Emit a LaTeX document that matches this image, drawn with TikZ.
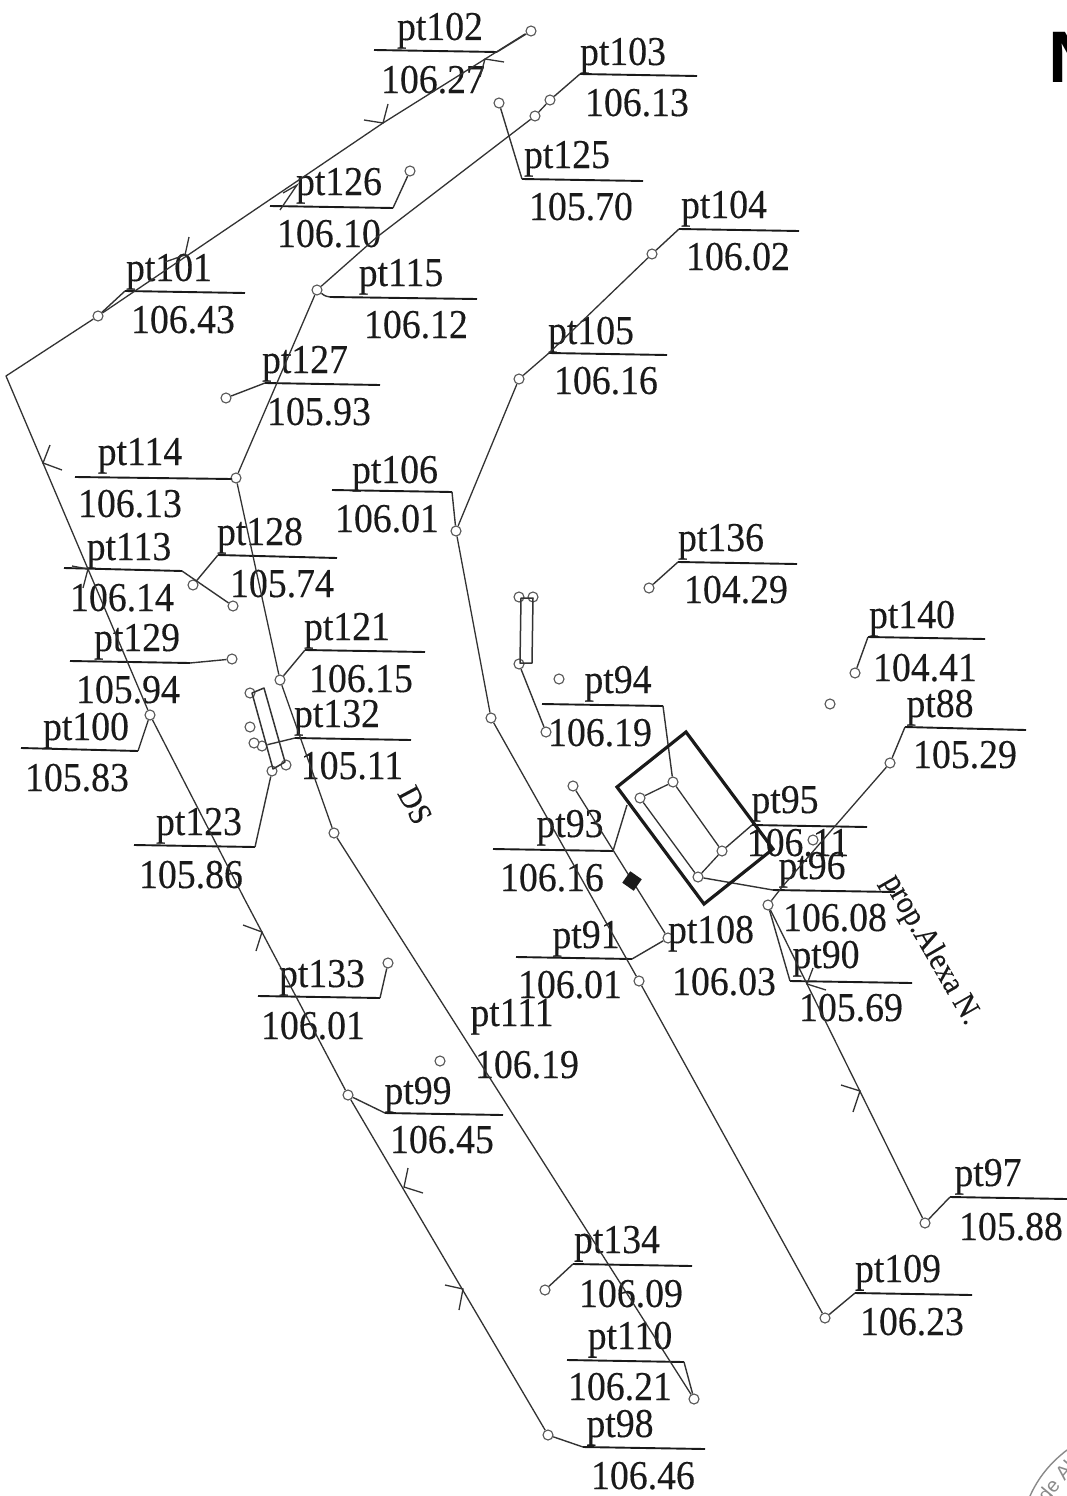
\documentclass[tikz,border=0pt]{standalone}
\usepackage{fontspec}
\setmainfont[FakeStretch=0.92,FakeBold=0.25]{Liberation Serif}
\newfontfamily\nsans{Liberation Sans}
\definecolor{ink}{HTML}{1A1A1A}
\definecolor{wire}{HTML}{333333}
\definecolor{ptc}{HTML}{555555}
\definecolor{stamp}{HTML}{8A8A8A}
\tikzset{
  pto/.style={circle,draw=ptc,line width=1.1pt,fill=white,inner sep=0pt,minimum size=10pt},
  wireline/.style={draw=wire,line width=1.3pt,line join=round},
  leader/.style={draw=wire,line width=1.4pt,line join=round},
  rulebar/.style={draw=ink,line width=1.9pt},
  bigbox/.style={draw=ink,line width=3.2pt,line join=miter},
  tinybox/.style={draw=wire,line width=1.5pt,line join=round},
  tick/.style={draw=wire,line width=1.3pt},
  lab/.style={inner sep=0pt,anchor=base,text=ink,font=\fontsize{41}{41}\selectfont},
  sidelab/.style={inner sep=0pt,text=ink,font=\fontsize{32}{32}\selectfont},
}
% id, rule x1,y1,x2,y2, name x,y, value x,y, then the value text
\newcommand{\ptlabel}[9]{%
  \coordinate (#1-L) at (#2,#3);
  \coordinate (#1-R) at (#4,#5);
  \draw[rulebar] (#1-L) -- (#1-R);
  \node[lab] (#1-name) at (#6,#7+13) {#1};
  \ptvalue{#1}{#8}{#9}}
\newcommand{\ptvalue}[4]{\node[lab] (#1-val) at (#2,#3+13) {#4};}
\begin{document}
\begin{tikzpicture}[x=1pt,y=-1pt]
\useasboundingbox (0,0) rectangle (1067,1496);
\fill[white] (0,0) rectangle (1067,1496);

% free bends and corners of the run lines
\coordinate (c1) at (6,376);
\coordinate (c2) at (245,900);
\coordinate (c3) at (525,34);
\coordinate (c4) at (383,123);
\coordinate (c5) at (377,237);

% main points
\foreach \n/\x/\y in {p102/531/31,p103/550/100,p103b/535/116,p125/499/103,p126/410/171,
  p104/652/254,p105/519/379,p101/98/316,p115/317/290,p127/226/398,p114/236/478,
  p106/456/531,p136/649/588,p113/233/606,p128/193/585,p129/232/659,p121/280/680,
  p100/150/715,p123/272/771,p132/262/746,pa/334/833,p133/388/963,p99/348/1095,
  p134/545/1290,p110/694/1399,p98/548/1435,p109/825/1318,p97/925/1223,p90/768/905,
  p88/890/763,p95/722/851,p96/698/877,p94/673/782,pb/640/798,pm/491/718,p111/639/981,
  p108/668/938,p108b/573/786,p140/855/673,iso1/559/679,iso2/830/704,iso3/440/1061,
  iso4/813/840,r1/519/597,r2/533/597,r3/519/664,r4/546/732,
  l1/250/693,l2/250/727,l3/254/743,l4/286/765}
  {\node[pto] (\n) at (\x,\y) {};}

% labels with rules
\ptlabel{pt102}{374}{50}{497}{52}{440}{27}{433}{80}{106.27}
\ptlabel{pt103}{580}{74}{697}{76}{623}{52}{637}{103}{106.13}
\ptlabel{pt125}{522}{179}{643}{181}{567}{155}{581}{207}{105.70}
\ptlabel{pt126}{270}{206}{393}{208}{339}{182}{329}{234}{106.10}
\ptlabel{pt104}{679}{229}{799}{231}{724}{205}{738}{257}{106.02}
\ptlabel{pt101}{125}{291}{245}{293}{169}{268}{183}{320}{106.43}
\ptlabel{pt115}{330}{297}{477}{299}{401}{273}{416}{325}{106.12}
\ptlabel{pt127}{265}{383}{380}{385}{305}{360}{319}{412}{105.93}
\ptlabel{pt105}{549}{353}{667}{355}{591}{331}{606}{381}{106.16}
\ptlabel{pt114}{75}{477}{232}{479}{140}{452}{130}{504}{106.13}
\ptlabel{pt106}{332}{490}{452}{492}{395}{470}{387}{519}{106.01}
\ptlabel{pt136}{678}{562}{797}{564}{721}{538}{736}{590}{104.29}
\ptlabel{pt113}{64}{568}{182}{571}{129}{547}{122}{598}{106.14}
\ptlabel{pt128}{218}{555}{337}{558}{260}{532}{282}{584}{105.74}
\ptlabel{pt129}{70}{661}{190}{663}{137}{638}{128}{690}{105.94}
\ptlabel{pt121}{305}{650}{425}{652}{347}{627}{361}{679}{106.15}
\ptlabel{pt100}{21}{748}{138}{751}{86}{727}{77}{778}{105.83}
\ptlabel{pt132}{295}{738}{411}{740}{337}{714}{352}{766}{105.11}
\ptlabel{pt123}{134}{845}{255}{847}{199}{822}{191}{875}{105.86}
\ptlabel{pt133}{258}{996}{380}{998}{322}{974}{313}{1026}{106.01}
\ptlabel{pt99}{385}{1113}{503}{1115}{418}{1091}{442}{1140}{106.45}
\ptlabel{pt134}{573}{1264}{692}{1266}{617}{1240}{631}{1294}{106.09}
\ptlabel{pt110}{567}{1360}{684}{1362}{630}{1336}{620}{1387}{106.21}
\ptlabel{pt98}{583}{1447}{705}{1449}{620}{1424}{643}{1476}{106.46}
\ptlabel{pt109}{855}{1293}{972}{1295}{898}{1269}{912}{1322}{106.23}
\ptlabel{pt97}{950}{1197}{1067}{1199}{988}{1173}{1011}{1227}{105.88}
\ptlabel{pt90}{790}{981}{912}{983}{826}{955}{851}{1008}{105.69}
\ptlabel{pt96}{773}{890}{895}{892}{812}{866}{835}{918}{106.08}
\ptlabel{pt95}{752}{825}{867}{827}{785}{800}{798}{843}{106.11}
\ptlabel{pt88}{905}{727}{1026}{730}{940}{704}{965}{755}{105.29}
\ptlabel{pt140}{868}{637}{985}{639}{912}{615}{925}{668}{104.41}
\ptlabel{pt94}{542}{704}{663}{706}{618}{680}{600}{733}{106.19}
\ptlabel{pt93}{493}{849}{613}{851}{570}{824}{552}{878}{106.16}
\ptlabel{pt91}{516}{957}{632}{959}{586}{935}{570}{985}{106.01}
\node[lab] (pt108-name) at (711,943) {pt108};
\node[lab] (pt108-val) at (724,995) {106.03};
\node[lab] (pt111-name) at (512,1026) {pt111};
\node[lab] (pt111-val) at (527,1078) {106.19};

% run lines
\draw[wireline] (c3) -- (c4) -- (p101) -- (c1) -- (p100) -- (c2) -- (p99) -- (p98);
\draw[wireline] (p103) -- (p103b) -- (c5) -- (p115) -- (p114) -- (p121) -- (pa) -- (p110);
\draw[wireline] (p104) -- (pt105-L) -- (p105) -- (p106) -- (pm) -- (p111) -- (p109);
\draw[wireline] (p90) -- (p97);
\draw[wireline] (p108b) -- (p108);

% leaders from each rule to its point
\draw[leader] (pt102-R) -- (p102);
\draw[leader] (pt103-L) -- (p103);
\draw[leader] (p125) -- (pt125-L);
\draw[leader] (pt126-R) -- (p126);
\draw[leader] (pt104-L) -- (p104);
\draw[leader] (pt101-L) -- (p101);
\draw[leader] (pt115-L) .. controls (325,296) .. (p115);
\draw[leader] (pt127-L) -- (p127);
\draw[leader] (pt114-R) -- (p114);
\draw[leader] (pt106-R) -- (p106);
\draw[leader] (pt136-L) -- (p136);
\draw[leader] (pt113-R) -- (p113);
\draw[leader] (pt128-L) -- (p128);
\draw[leader] (pt129-R) -- (p129);
\draw[leader] (pt121-L) -- (p121);
\draw[leader] (pt100-R) -- (p100);
\draw[leader] (pt132-L) -- (p132);
\draw[leader] (pt123-R) -- (p123);
\draw[leader] (pt133-R) -- (p133);
\draw[leader] (pt99-L) -- (p99);
\draw[leader] (pt134-L) -- (p134);
\draw[leader] (pt110-R) -- (p110);
\draw[leader] (pt98-L) -- (p98);
\draw[leader] (pt109-L) -- (p109);
\draw[leader] (pt97-L) -- (p97);
\draw[leader] (pt90-L) -- (p90);
\draw[leader] (pt96-L) -- (p96);
\draw[leader] (pt95-L) -- (p95);
\draw[leader] (pt88-L) -- (p88);
\draw[leader] (pt140-L) -- (p140);
\draw[leader] (pt94-R) -- (p94);
\draw[leader] (pt93-R) -- (627,805);
\draw[leader] (pt91-R) -- (p108);
\draw[wireline] (p88) -- (782,887) -- (p90);

% big building and its inner outline
\draw[bigbox] (686,732) -- (617,787) -- (704,904) -- (773,849) -- cycle;
\draw[wireline] (pb) -- (p94) -- (p95) -- (p96) -- (pb);

% small rectangles
\draw[tinybox] (521,598) -- (533,598) -- (532,663) -- (520,663) -- cycle;
\draw[leader] (r3) -- (r4);
\draw[tinybox] (252,693) -- (264,688) -- (285,762) -- (273,769) -- cycle;

% dark square on the line
\node[fill=ink,draw=none,minimum size=14pt,inner sep=0pt,rotate=-35] (sq) at (632,881) {};

% flow ticks
\draw[tick] (364,120) -- (383,123) -- (388,104);
\draw[tick] (504,62) -- (485,59) -- (480,77);
\draw[tick] (283,193) -- (297,185) -- (280,210);
\draw[tick] (165,262) -- (185,255) -- (189,237);
\draw[tick] (50,445) -- (43,463) -- (62,470);
\draw[tick] (72,566) -- (88,569) -- (83,588);
\draw[tick] (243,925) -- (262,932) -- (256,951);
\draw[tick] (408,1168) -- (404,1187) -- (423,1193);
\draw[tick] (445,1285) -- (463,1289) -- (459,1310);
\draw[tick] (841,1085) -- (860,1091) -- (853,1112);
\draw[tick] (813,968) -- (807,984) -- (826,990);

% side texts
\node[sidelab,rotate=-62] (ds) at (415,805) {DS};
\node[sidelab,rotate=-60] (prop) at (931,950) {prop.Alexa N.};

% partial title letter
\node[inner sep=0pt,anchor=base west,text=black,font=\nsans\bfseries\fontsize{73}{73}\selectfont] (title) at (1048,82) {N};

% stamp at the corner
\draw[stamp,line width=1.4pt] (1030,1496) .. controls (1038,1478) and (1050,1463) .. (1067,1450);
\node[inner sep=0pt,text=stamp,rotate=50,font=\nsans\fontsize{20}{20}\selectfont] (stamptext) at (1056,1481) {de Al};
\end{tikzpicture}
\end{document}
